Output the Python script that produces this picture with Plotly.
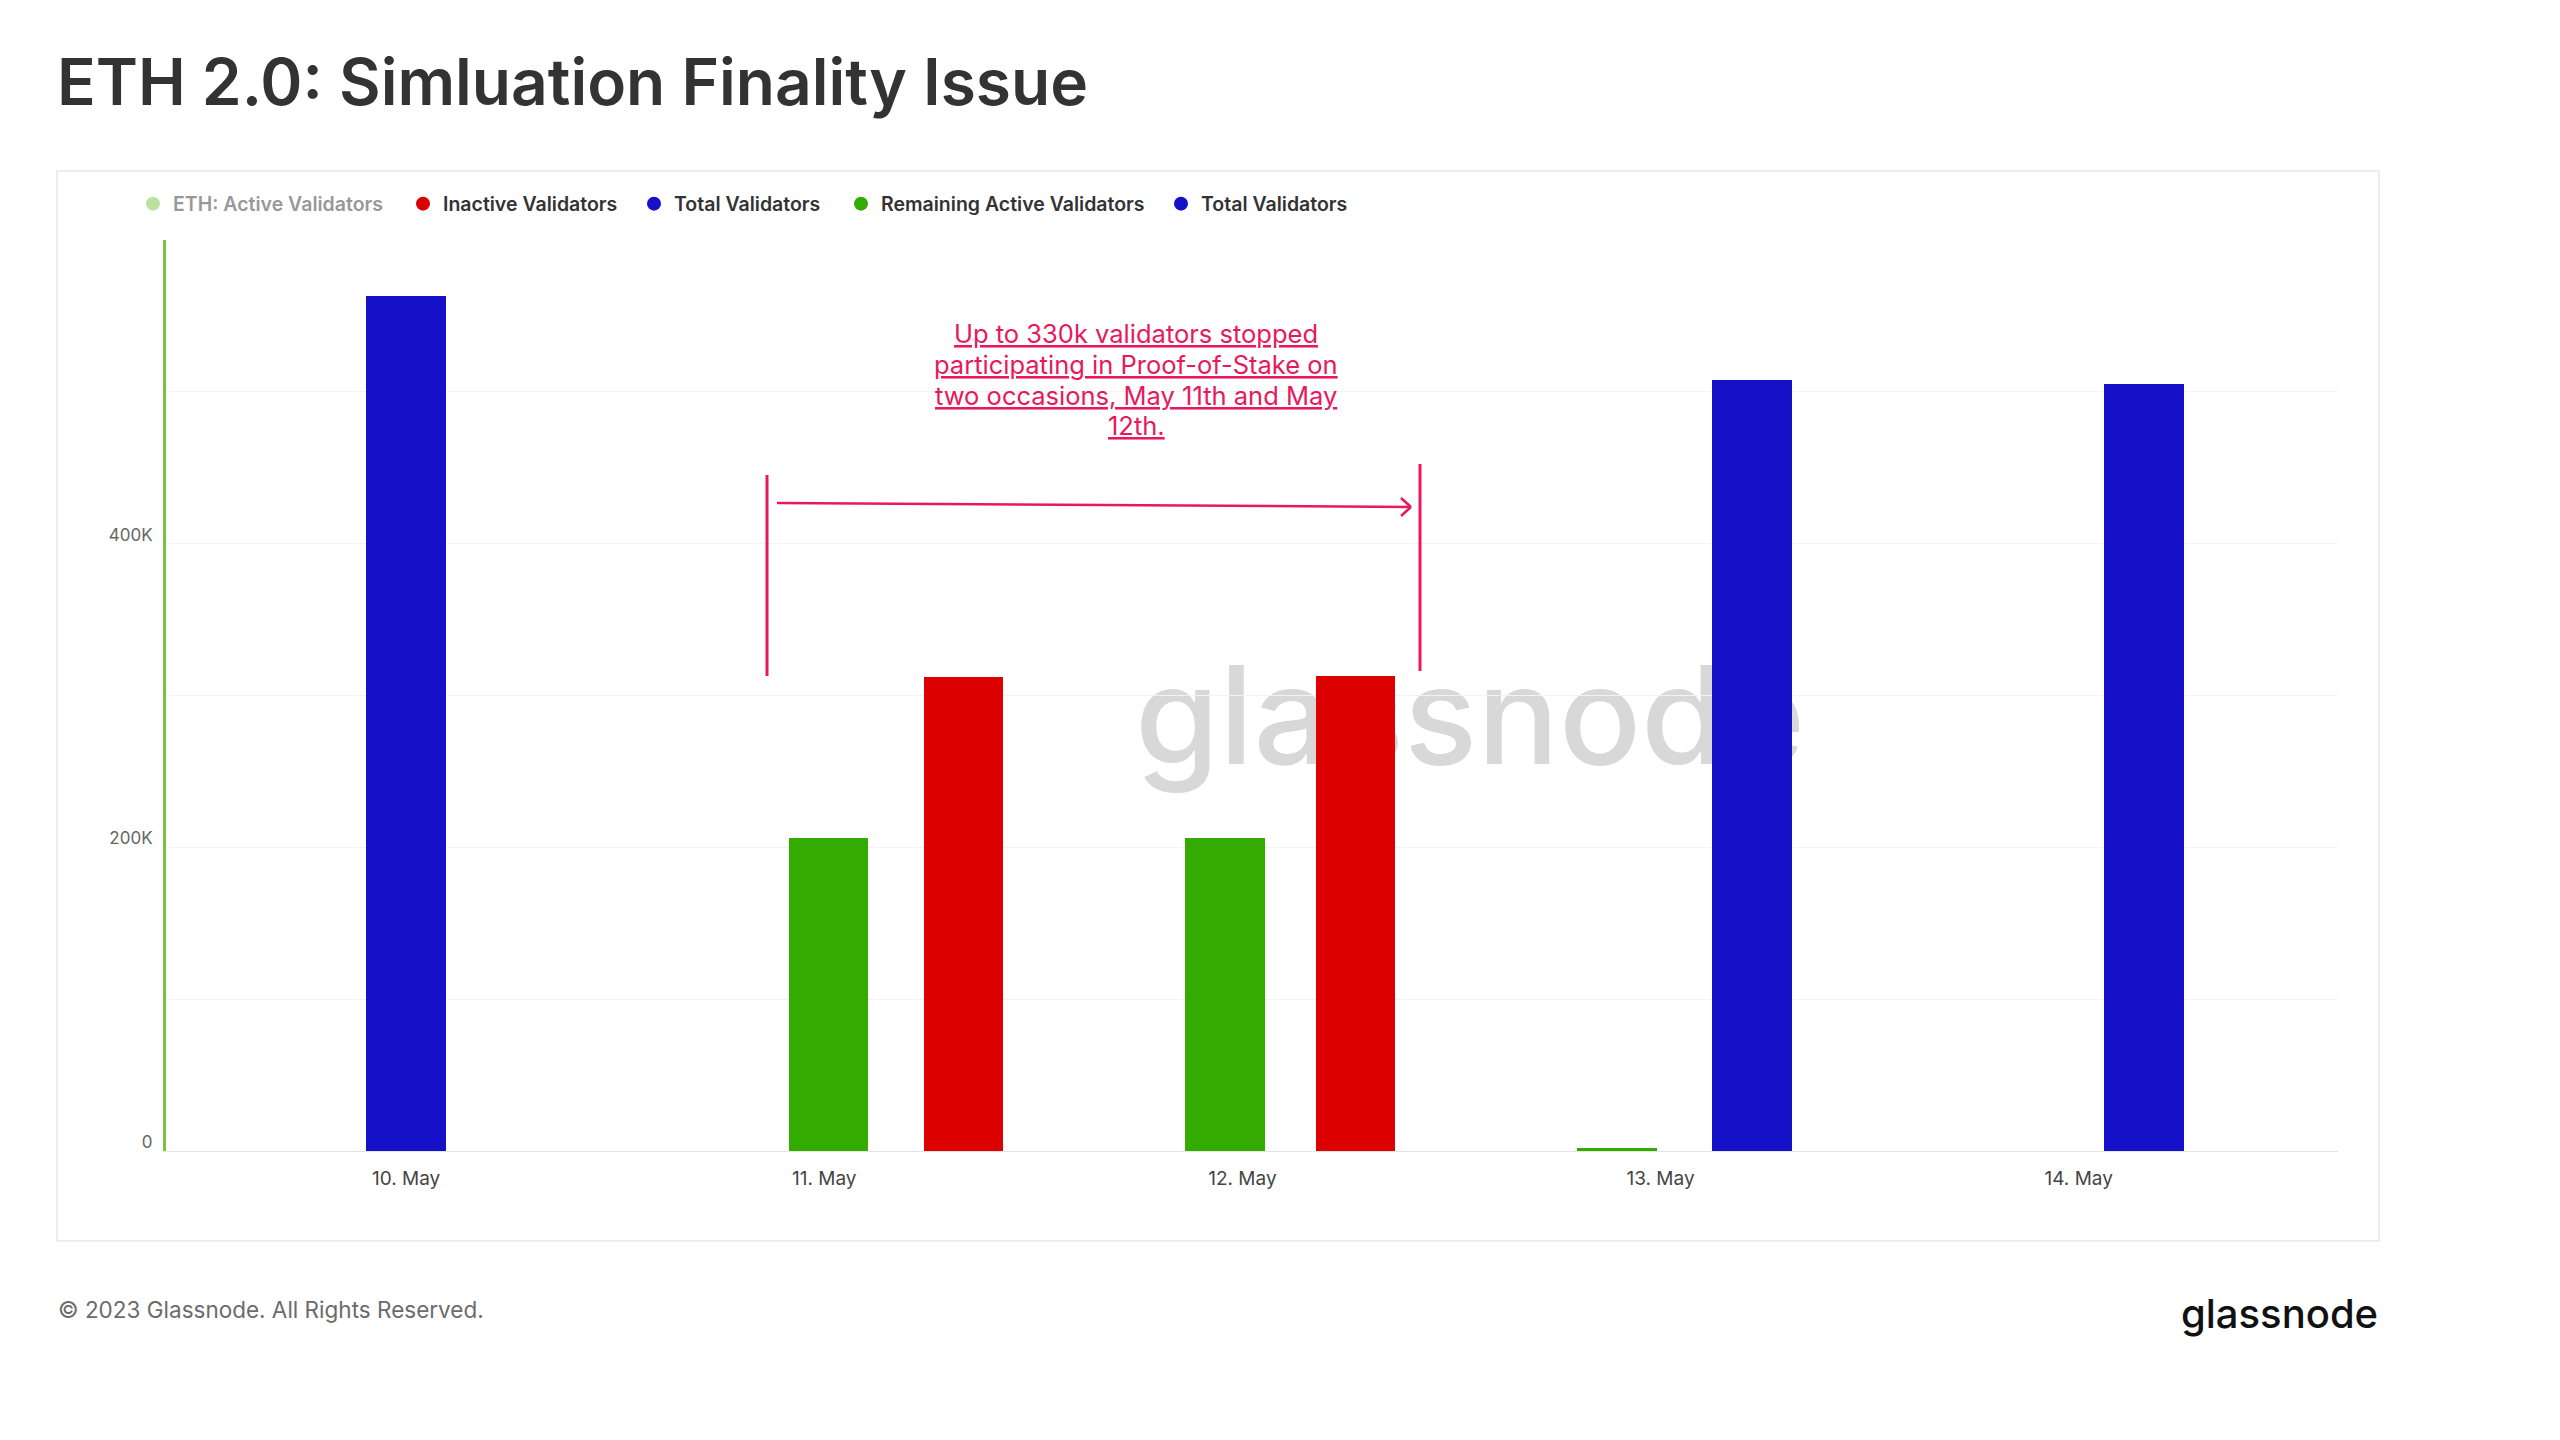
import plotly.graph_objects as go

# ---------------- data ----------------
date_ticks = ["2023-05-10", "2023-05-11", "2023-05-12", "2023-05-13", "2023-05-14"]
date_labels = ["10. May", "11. May", "12. May", "13. May", "14. May"]

total_a_x = ["2023-05-10 00:00"]
total_a_y = [563000]

total_b_x = ["2023-05-13 05:15", "2023-05-14 03:45"]
total_b_y = [508000, 505000]

remaining_x = ["2023-05-11 00:15", "2023-05-11 23:00", "2023-05-12 21:30"]
remaining_y = [206000, 206000, 2000]

inactive_x = ["2023-05-11 08:00", "2023-05-12 06:30"]
inactive_y = [312000, 313000]

y_tickvals = [0, 100000, 200000, 300000, 400000, 500000, 600000]
y_ticktext = ["0", "", "200K", "", "400K", "", ""]

legend_names = ["ETH: Active Validators", "Inactive Validators", "Total Validators",
                "Remaining Active Validators", "Total Validators"]

note_lines = ["Up to 330k validators stopped", "participating in Proof-of-Stake on",
              "two occasions, May 11th and May", "12th."]

# ---------------- styling ----------------
OFF = 8  # page body margin
W, H = 2560 - 2 * OFF, 1440 - 2 * OFF
PL, PR, PT, PB = 166, 2338, 240, 1151  # plot area in page pixels
BLUE = "#1511c9"
RED = "#dc0000"
GREEN = "#34ab00"
LIGHTGREEN = "#7cc242"
PINK = "#e8185e"
FONT = "Inter"

def px(x):
    return (x - PL) / (PR - PL)

def py(y):
    return (PB - y) / (PB - PT)

BAR_W = 0.19 * 86400000  # bar width in ms

fig = go.Figure()

fig.add_trace(go.Bar(x=total_a_x, y=total_a_y, width=BAR_W, marker=dict(color=BLUE, line=dict(width=0)),
                     showlegend=False, name="Total Validators"))
fig.add_trace(go.Bar(x=remaining_x, y=remaining_y, width=BAR_W, marker=dict(color=GREEN, line=dict(width=0)),
                     showlegend=False, name="Remaining Active Validators"))
fig.add_trace(go.Bar(x=inactive_x, y=inactive_y, width=BAR_W, marker=dict(color=RED, line=dict(width=0)),
                     showlegend=False, name="Inactive Validators"))
fig.add_trace(go.Bar(x=total_b_x, y=total_b_y, width=BAR_W, marker=dict(color=BLUE, line=dict(width=0)),
                     showlegend=False, name="Total Validators"))

# legend entries, each in its own legend box so spacing matches
legend_colors = [LIGHTGREEN, RED, BLUE, GREEN, BLUE]
legend_vis = ["legendonly", True, True, True, True]
legend_dot_x = [150, 420, 651, 858, 1178]  # page px of each dot
legend_ids = ["legend", "legend2", "legend3", "legend4", "legend5"]
legend_layouts = {}
for name, col, vis, dx, lid in zip(legend_names, legend_colors, legend_vis, legend_dot_x, legend_ids):
    fig.add_trace(go.Scatter(x=[None], y=[None], mode="markers", name=name, visible=vis, legend=lid,
                             marker=dict(symbol="circle", size=14, color=col)))
    legend_layouts[lid] = dict(orientation="h", x=px(dx - 17), y=py(204), xanchor="left", yanchor="middle",
                               font=dict(family=FONT, size=19.5, color="#333333", weight=600),
                               bgcolor="rgba(0,0,0,0)", itemclick=False, itemdoubleclick=False)

shapes = []
annotations = []

shapes.append(dict(type="rect", xref="paper", yref="paper",
                   x0=px(57), x1=px(2379), y0=py(171), y1=py(1241),
                   line=dict(color="#ececec", width=2), fillcolor="rgba(0,0,0,0)", layer="below"))

# watermark (below bars)
shapes.append(dict(type="rect", xref="paper", yref="paper",
                   x0=px(1170), x1=px(1770), y0=py(780), y1=py(640),
                   line=dict(width=0), fillcolor="rgba(0,0,0,0)", layer="below",
                   label=dict(text="glassnode", textposition="middle center",
                              font=dict(family=FONT, size=136, color="#d8d8d8", weight=500))))

shapes.append(dict(type="line", xref="paper", yref="paper", x0=px(767), x1=px(767), y0=py(475), y1=py(676),
                   line=dict(color=PINK, width=3)))
shapes.append(dict(type="line", xref="paper", yref="paper", x0=px(1420), x1=px(1420), y0=py(464), y1=py(671),
                   line=dict(color=PINK, width=3)))
shapes.append(dict(type="line", xref="paper", yref="paper", x0=px(777), x1=px(1411), y0=py(503), y1=py(507),
                   line=dict(color=PINK, width=2.5)))
shapes.append(dict(type="line", xref="paper", yref="paper", x0=px(1401), x1=px(1411), y0=py(498), y1=py(507),
                   line=dict(color=PINK, width=2.5)))
shapes.append(dict(type="line", xref="paper", yref="paper", x0=px(1401), x1=px(1411), y0=py(516), y1=py(507),
                   line=dict(color=PINK, width=2.5)))

U = '<span style="text-decoration:underline">'
for i, line in enumerate(note_lines):
    annotations.append(dict(xref="paper", yref="paper", x=px(1136), y=py(333 + 31 * i),
                            xanchor="center", yanchor="middle",
                            text=U + line + "</span>", showarrow=False, align="center",
                            font=dict(family=FONT, size=25.5, color=PINK)))

annotations.append(dict(xref="paper", yref="paper", x=px(55), y=py(81), xanchor="left", yanchor="middle",
                        text="ETH 2.0: Simluation Finality Issue", showarrow=False,
                        font=dict(family=FONT, size=64, color="#333333", weight=600)))
annotations.append(dict(xref="paper", yref="paper", x=px(56), y=py(1309), xanchor="left", yanchor="middle",
                        text="© 2023 Glassnode. All Rights Reserved.", showarrow=False,
                        font=dict(family=FONT, size=22.5, color="#6b6b6b")))
annotations.append(dict(xref="paper", yref="paper", x=px(2380), y=py(1313), xanchor="right", yanchor="middle",
                        text="glassnode", showarrow=False,
                        font=dict(family=FONT, size=40, color="#111111", weight=500)))

fig.update_layout(
    width=W, height=H,
    margin=dict(l=PL - OFF, r=W - (PR - OFF), t=PT - OFF, b=H - (PB - OFF), pad=0),
    paper_bgcolor="white", plot_bgcolor="white",
    font=dict(family=FONT, color="#333333"),
    barmode="overlay",
    bargap=0,
    showlegend=True,
    shapes=shapes,
    annotations=annotations,
    xaxis=dict(type="date", range=["2023-05-09 10:13", "2023-05-14 14:53"],
               tickvals=date_ticks, ticktext=date_labels, showgrid=False, zeroline=False,
               showline=True, linecolor="#e4e4e4", linewidth=1, ticks="",
               ticklabelstandoff=10,
               tickfont=dict(family=FONT, size=19, color="#444444")),
    yaxis=dict(range=[0, 600000], tickvals=y_tickvals, ticktext=y_ticktext,
               showgrid=True, gridcolor="#f3f3f3", gridwidth=1, zeroline=False,
               showline=True, linecolor=LIGHTGREEN, linewidth=3, ticks="",
               ticklabelstandoff=7, ticklabelshift=-9,
               tickfont=dict(family=FONT, size=17, color="#666666")),
    **legend_layouts,
)

fig.write_html("out.html")
